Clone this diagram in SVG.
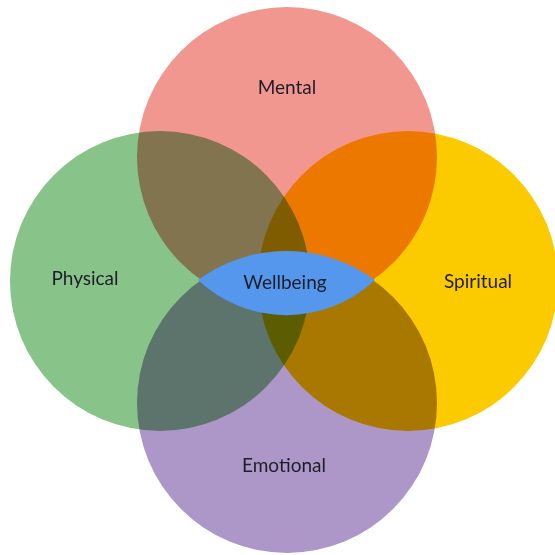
<svg xmlns="http://www.w3.org/2000/svg" width="555" height="555" viewBox="0 0 555 555">
  <style>
    .petal { mix-blend-mode: multiply; }
    .label { font-family: "Lato", "Open Sans", "Liberation Sans", sans-serif; font-size: 19px; fill: #1e1e28; text-anchor: middle; }
  </style>
  <rect width="555" height="555" fill="#ffffff"/>
  <g id="venn" style="isolation: isolate">
    <g id="mental">
      <circle class="petal" cx="287" cy="157" r="150" fill="#F1978F"/>
    </g>
    <g id="physical">
      <circle class="petal" cx="160" cy="281" r="150" fill="#88C48A"/>
    </g>
    <g id="spiritual">
      <circle class="petal" cx="408" cy="281" r="150" fill="#FBCB00"/>
    </g>
    <g id="emotional">
      <circle class="petal" cx="287" cy="403" r="150" fill="#AC97C8"/>
    </g>
  </g>
  <g id="wellbeing">
    <path d="M198,280 A149.5,149.5 0 0 1 375,280 A129,129 0 0 1 198,280 Z" fill="#5497EC"/>
    <text class="label" x="285" y="289">Wellbeing</text>
  </g>
  <g id="labels">
    <text class="label" x="287" y="94">Mental</text>
    <text class="label" x="85" y="285">Physical</text>
    <text class="label" x="478" y="288">Spiritual</text>
    <text class="label" x="284" y="472">Emotional</text>
  </g>
</svg>
